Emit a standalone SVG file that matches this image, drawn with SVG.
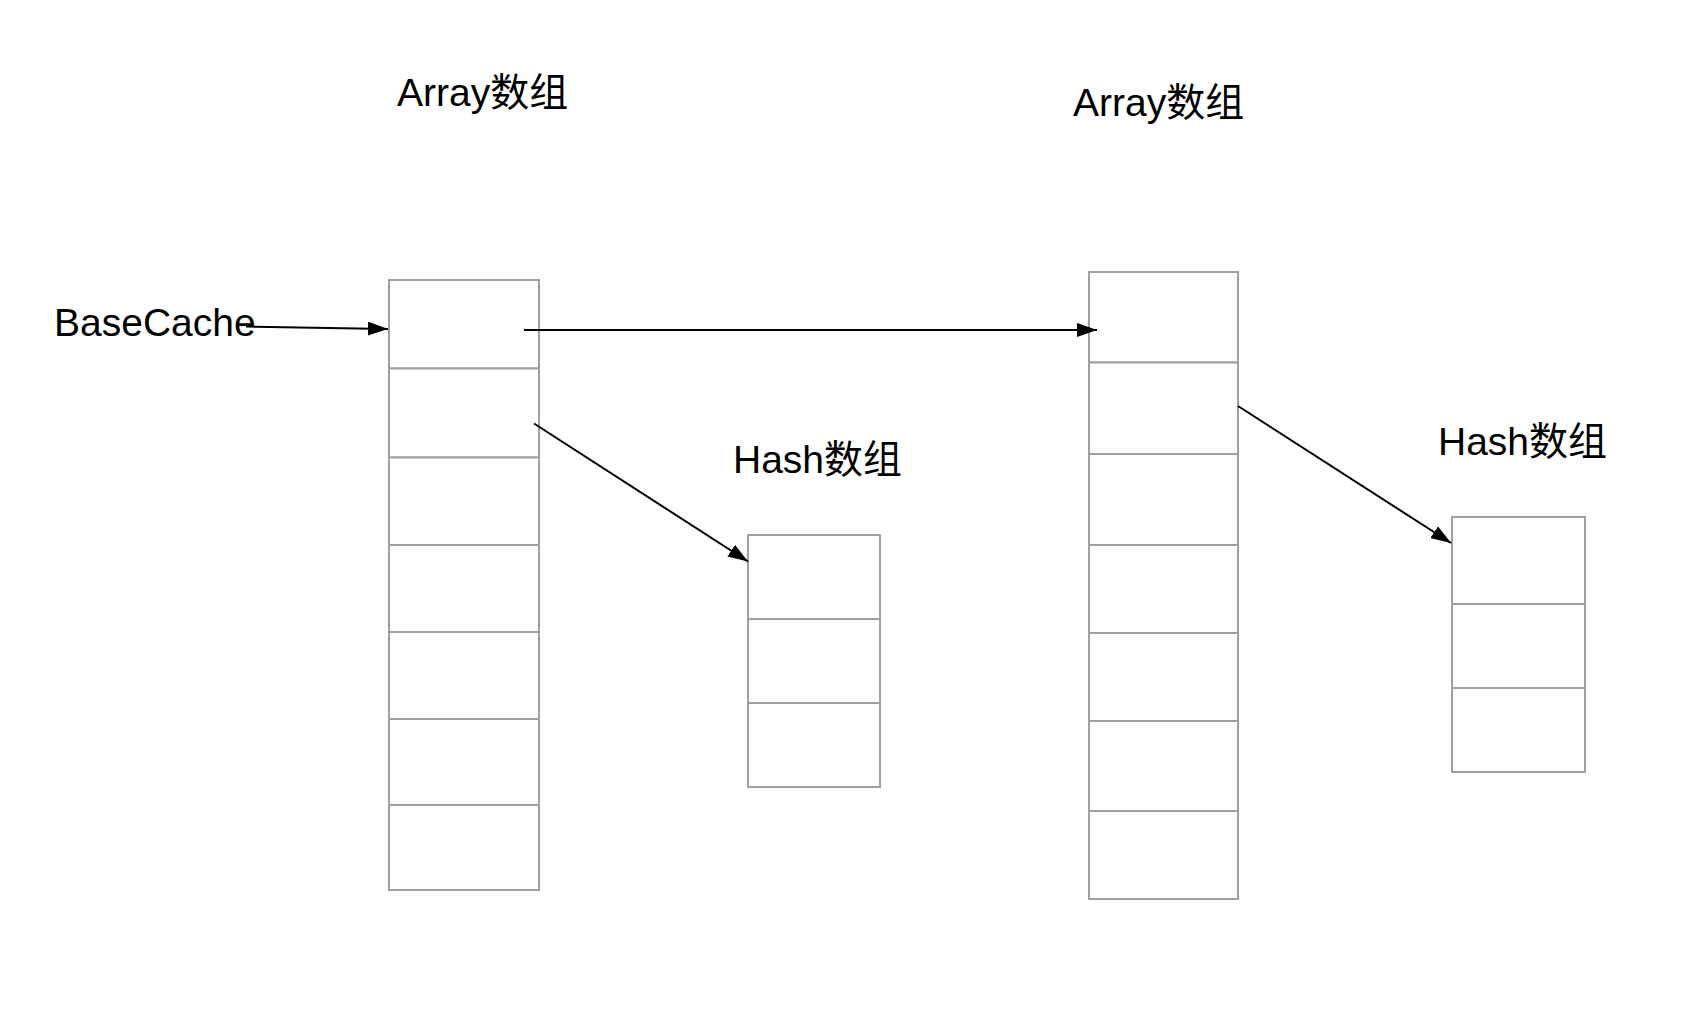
<svg xmlns="http://www.w3.org/2000/svg" width="1706" height="1034" viewBox="0 0 1706 1034">
<style>
.cell{fill:#ffffff;stroke:#a0a0a0;stroke-width:2}
.lbl{font-family:"Liberation Sans","Noto Sans CJK SC",Arial,sans-serif;font-size:39px;fill:#000000}
.edge{fill:none;stroke:#000000;stroke-width:2}
</style>
<defs>
<marker id="arr" viewBox="0 0 20 14" refX="20" refY="7" markerWidth="20" markerHeight="14" markerUnits="userSpaceOnUse" orient="auto">
<path d="M0,0 L20,7 L0,14 Z" fill="#000000"/>
</marker>
</defs>
<rect width="1706" height="1034" fill="#ffffff"/>
<g id="array1">
<rect class="cell" x="389" y="280" width="150" height="88.5"/>
<rect class="cell" x="389" y="368.5" width="150" height="89"/>
<rect class="cell" x="389" y="457.5" width="150" height="87.5"/>
<rect class="cell" x="389" y="545" width="150" height="87"/>
<rect class="cell" x="389" y="632" width="150" height="87"/>
<rect class="cell" x="389" y="719" width="150" height="86"/>
<rect class="cell" x="389" y="805" width="150" height="85"/>
</g>
<g id="array2">
<rect class="cell" x="1089" y="272" width="149" height="90.5"/>
<rect class="cell" x="1089" y="362.5" width="149" height="91.5"/>
<rect class="cell" x="1089" y="454" width="149" height="91"/>
<rect class="cell" x="1089" y="545" width="149" height="88"/>
<rect class="cell" x="1089" y="633" width="149" height="88"/>
<rect class="cell" x="1089" y="721" width="149" height="90"/>
<rect class="cell" x="1089" y="811" width="149" height="88"/>
</g>
<g id="hash1">
<rect class="cell" x="748" y="535" width="132" height="84"/>
<rect class="cell" x="748" y="619" width="132" height="84"/>
<rect class="cell" x="748" y="703" width="132" height="84"/>
</g>
<g id="hash2">
<rect class="cell" x="1452" y="517" width="133" height="87"/>
<rect class="cell" x="1452" y="604" width="133" height="84"/>
<rect class="cell" x="1452" y="688" width="133" height="84"/>
</g>
<g id="labels">
<text id="label-array1" class="lbl" x="397" y="106">Array数组</text>
<text id="label-array2" class="lbl" x="1073" y="116">Array数组</text>
<text id="label-hash1" class="lbl" x="733" y="473">Hash数组</text>
<text id="label-hash2" class="lbl" x="1438" y="455">Hash数组</text>
<text id="label-basecache" class="lbl" x="54" y="336">BaseCache</text>
</g>
<g id="connectors">
<line class="edge" x1="246" y1="326.5" x2="388" y2="329" marker-end="url(#arr)"/>
<line class="edge" x1="524" y1="330" x2="1097" y2="330" marker-end="url(#arr)"/>
<line class="edge" x1="534" y1="423.5" x2="748" y2="561.5" marker-end="url(#arr)"/>
<line class="edge" x1="1238" y1="406" x2="1451" y2="543" marker-end="url(#arr)"/>
</g>
</svg>
